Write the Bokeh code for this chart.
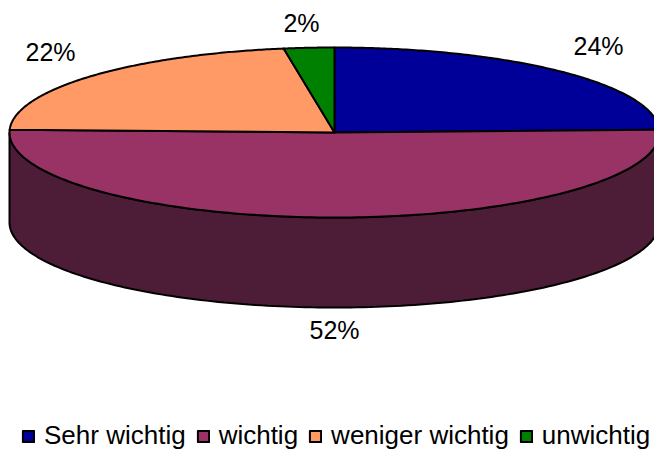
import numpy as np
from bokeh.plotting import figure
from bokeh.embed import file_html
from bokeh.resources import INLINE
from bokeh.models import Legend, LegendItem
from bokeh.core.properties import value

categories = ["Sehr wichtig", "wichtig", "weniger wichtig", "unwichtig"]
shares = [24.5, 51.0, 22.0, 2.5]
labels = ["24%", "52%", "22%", "2%"]
colors = ["#000099", "#993366", "#FF9966", "#008000"]
wall_color = "#4D1C36"

FONT = "Liberation Sans"
CX, CY, RX, RY, DEPTH = 334, 132, 325, 85, 90
LABEL_POS = [(598, 45), (334, 329), (50, 51), (301, 22)]

p = figure(width=654, height=450, x_range=(0, 654), y_range=(450, 0),
           output_backend="svg", toolbar_location=None, min_border=0)
p.axis.visible = False
p.grid.visible = False
p.outline_line_color = None
p.background_fill_color = "white"


def rim(a0, a1, dy=0.0, n=160):
    """Angles in degrees, clockwise from 12 o'clock, on the tilted ellipse."""
    t = np.radians(np.linspace(a0, a1, n))
    return CX + RX * np.sin(t), CY + dy - RY * np.cos(t)


# side wall of the disc (lower half of the rim)
tx, ty = rim(90, 270)
bx, by = rim(270, 90, dy=DEPTH)
p.patch(np.r_[tx, bx], np.r_[ty, by], fill_color=wall_color,
        line_color="black", line_width=2)

edges = np.cumsum([0] + shares) * 3.6
items = []
for i, cat in enumerate(categories):
    x, y = rim(edges[i], edges[i + 1])
    r = p.patch(np.r_[CX, x], np.r_[CY, y], fill_color=colors[i],
                line_color="black", line_width=2, line_join="round")
    items.append(LegendItem(label=value(cat), renderers=[r]))

p.text([q[0] for q in LABEL_POS], [q[1] for q in LABEL_POS], text=labels,
       text_font=value(FONT), text_font_size="25px", text_color="black",
       text_align="center", text_baseline="middle")

legend = Legend(items=items, orientation="horizontal", location=(21, -1),
                background_fill_alpha=0, border_line_color=None,
                label_text_font=FONT, label_text_font_size="26px",
                label_text_color="black", glyph_width=14, glyph_height=14,
                label_standoff=9, spacing=10, padding=0, margin=0)
p.add_layout(legend, "center")

open("out.html", "w").write(file_html(p, INLINE))
